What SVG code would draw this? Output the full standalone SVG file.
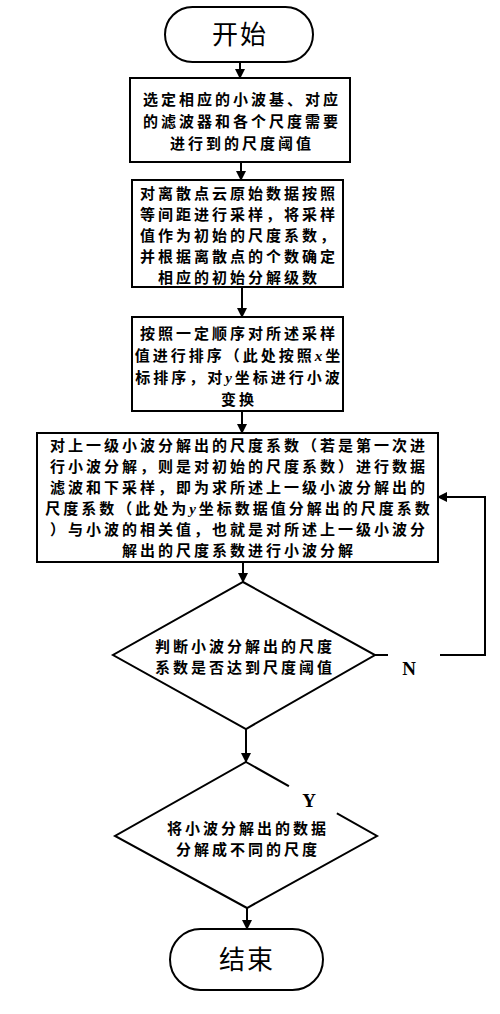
<svg xmlns="http://www.w3.org/2000/svg" width="500" height="1014" viewBox="0 0 500 1014">
<defs>
<marker id="ah" markerWidth="10" markerHeight="12" refX="9" refY="5" orient="auto" markerUnits="userSpaceOnUse" viewBox="0 0 10 10">
<path d="M0,0 L10,5 L0,10 Z" fill="#000"/>
</marker>
<style>
.sh{fill:#fff;stroke:#000;stroke-width:2}
.t{font-family:"Noto Sans CJK SC","Noto Sans CJK JP",sans-serif;font-weight:bold;font-size:15px;letter-spacing:3px;text-anchor:middle;fill:#000}
.tt{font-family:"Noto Sans CJK SC",sans-serif;font-size:26px;letter-spacing:2px;text-anchor:middle;fill:#000}
.lat{font-family:"Liberation Serif",serif;font-style:italic;font-weight:bold}
.lbl{font-family:"Liberation Serif",serif;font-weight:bold;font-size:19px;text-anchor:middle;fill:#000}
.c{fill:none;stroke:#000;stroke-width:2}
</style>
</defs>
<g id="connectors">
<line class="c" x1="240" y1="62" x2="240" y2="78" marker-end="url(#ah)"/>
<line class="c" x1="241" y1="162" x2="241" y2="180" marker-end="url(#ah)"/>
<line class="c" x1="242" y1="287" x2="242" y2="317" marker-end="url(#ah)"/>
<line class="c" x1="242" y1="411" x2="242" y2="433" marker-end="url(#ah)"/>
<line class="c" x1="243" y1="562" x2="243" y2="582" marker-end="url(#ah)"/>
<line class="c" x1="246" y1="729" x2="246" y2="762" marker-end="url(#ah)"/>
<line class="c" x1="247" y1="908" x2="247" y2="929" marker-end="url(#ah)"/>
<polyline class="c" points="375,655 388,655"/>
<polyline class="c" points="440,655 485,655 485,497 438,497" marker-end="url(#ah)"/>
</g>
<g id="start">
<rect class="sh" x="165" y="7" width="148" height="55" rx="27.5"/>
<text class="tt" x="240" y="44">开始</text>
</g>
<g id="box1">
<rect class="sh" x="130" y="78" width="220" height="84"/>
<text class="t" x="242" y="105">选定相应的小波基、对应</text>
<text class="t" x="242" y="127">的滤波器和各个尺度需要</text>
<text class="t" x="242" y="149">进行到的尺度阈值</text>
</g>
<g id="box2">
<rect class="sh" x="132" y="180" width="211" height="107"/>
<text class="t" x="239" y="199">对离散点云原始数据按照</text>
<text class="t" x="239" y="220">等间距进行采样，将采样</text>
<text class="t" x="239" y="241">值作为初始的尺度系数，</text>
<text class="t" x="239" y="262">并根据离散点的个数确定</text>
<text class="t" x="239" y="283">相应的初始分解级数</text>
</g>
<g id="box3">
<rect class="sh" x="132" y="317" width="211" height="94"/>
<text class="t" x="239" y="339">按照一定顺序对所述采样</text>
<text class="t" x="239" y="361">值进行排序（此处按照<tspan class="lat">x</tspan>坐</text>
<text class="t" x="239" y="383">标排序，对<tspan class="lat">y</tspan>坐标进行小波</text>
<text class="t" x="239" y="405">变换</text>
</g>
<g id="box4">
<rect class="sh" x="37" y="433" width="401" height="129"/>
<text class="t" x="239" y="451">对上一级小波分解出的尺度系数（若是第一次进</text>
<text class="t" x="239" y="472">行小波分解，则是对初始的尺度系数）进行数据</text>
<text class="t" x="239" y="493">滤波和下采样，即为求所述上一级小波分解出的</text>
<text class="t" x="239" y="514">尺度系数（此处为<tspan class="lat">y</tspan>坐标数据值分解出的尺度系数</text>
<text class="t" x="239" y="535">）与小波的相关值，也就是对所述上一级小波分</text>
<text class="t" x="239" y="556">解出的尺度系数进行小波分解</text>
</g>
<g id="decision1">
<polygon class="sh" points="243,582 375,655 246,729 113,655"/>
<text class="t" x="245" y="652">判断小波分解出的尺度</text>
<text class="t" x="245" y="673">系数是否达到尺度阈值</text>
</g>
<text class="lbl" x="409" y="675">N</text>
<g id="decision2">
<polygon class="sh" points="246,762 377,836 247,908 115,836"/>
<line x1="289" y1="786" x2="337" y2="813" stroke="#fff" stroke-width="5"/>
<text class="t" x="248" y="834">将小波分解出的数据</text>
<text class="t" x="248" y="855">分解成不同的尺度</text>
</g>
<text class="lbl" x="309" y="807">Y</text>
<g id="end">
<rect class="sh" x="170" y="929" width="153" height="61" rx="30.5"/>
<text class="tt" x="247" y="969">结束</text>
</g>
</svg>
